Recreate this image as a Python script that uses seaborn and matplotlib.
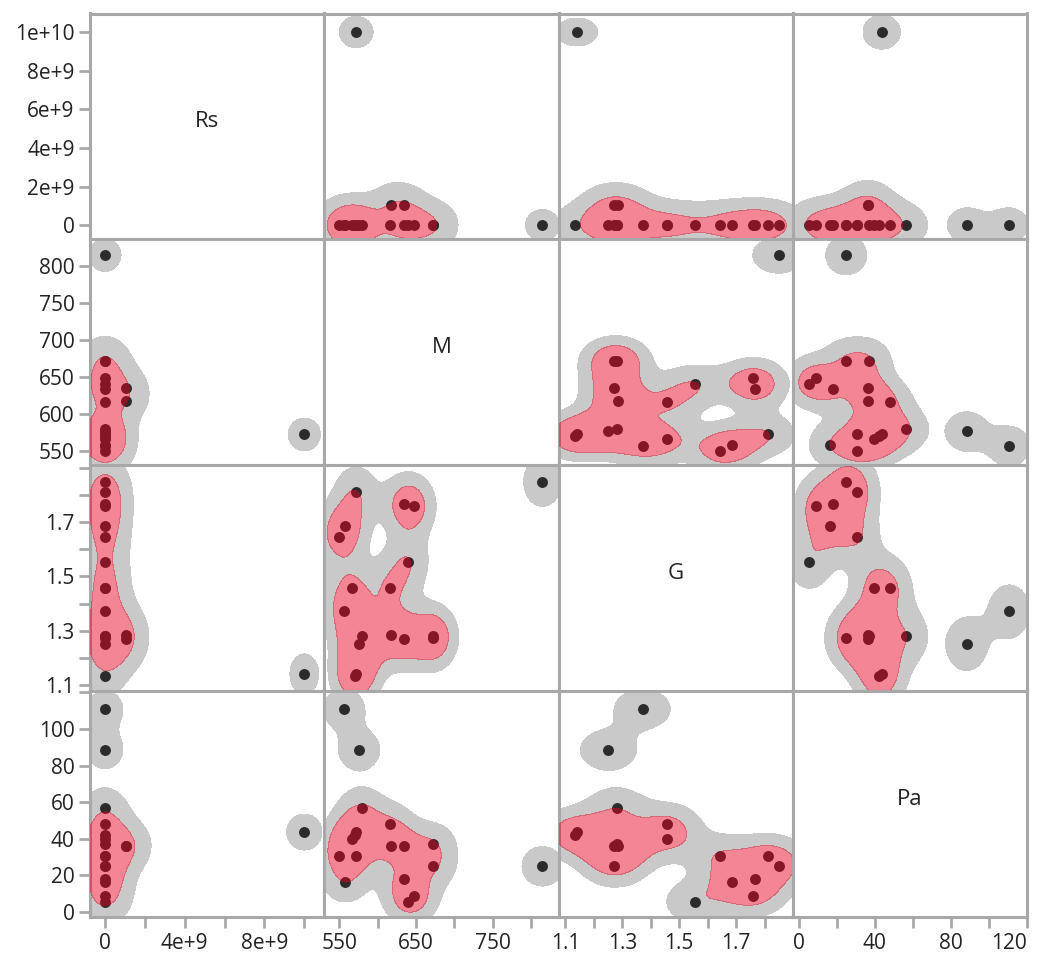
import numpy as np
import pandas as pd
import seaborn as sns
import matplotlib.pyplot as plt
from matplotlib.ticker import FixedLocator, FixedFormatter

rs = [0, 0, 0, 0, 0, 0, 1.05e9, 1.05e9, 0, 0, 0, 0, 1e10, 0, 0, 0, 0, 0]
m = [815, 672, 672, 640, 648, 634, 635, 618, 616, 579, 576, 572, 572, 570, 566, 558, 556, 550]
g_vals = [1.85, 1.272, 1.28, 1.555, 1.76, 1.767, 1.27, 1.284, 1.458, 1.28,
          1.25, 1.812, 1.14, 1.132, 1.458, 1.685, 1.371, 1.645]
pa = [25, 25, 37, 5.5, 9, 18, 36.3, 36.3, 48, 56.7, 88.4, 30.7, 43.7, 42, 39.8, 16.5, 110.9, 30.7]

names = ["Rs", "M", "G", "Pa"]

# axis domains (columns = x, rows = y)
x_lims = {"Rs": (-0.75e9, 11.0e9), "M": (530.4, 835.9), "G": (1.0754, 1.8993), "Pa": (-3.16, 120.2)}
y_lims = {"Rs": (-0.73e9, 10.96e9), "M": (530.6, 836.5), "G": (1.0778, 1.912), "Pa": (-2.4, 120.8)}

ticks = {"Rs": [0, 2e9, 4e9, 6e9, 8e9, 1e10],
         "M": [550, 600, 650, 700, 750, 800],
         "G": [1.1, 1.2, 1.3, 1.4, 1.5, 1.6, 1.7, 1.8, 1.9],
         "Pa": [0, 20, 40, 60, 80, 100, 120]}
x_labels = {"Rs": ["0", "", "4e+9", "", "8e+9", ""],
            "M": ["550", "", "650", "", "750", ""],
            "G": ["1.1", "", "1.3", "", "1.5", "", "1.7", "", ""],
            "Pa": ["0", "", "40", "", "80", "", "120"]}
y_labels = {"Rs": ["0", "2e+9", "4e+9", "6e+9", "8e+9", "1e+10"],
            "M": ["550", "600", "650", "700", "750", "800"],
            "G": ["1.1", "", "1.3", "", "1.5", "", "1.7", "", ""],
            "Pa": ["0", "20", "40", "60", "80", "100", ""]}

df = pd.DataFrame({"Rs": rs, "M": m, "G": g_vals, "Pa": pa})

GREY = "#c9c9c9"
RED = "#e8001f"
DOT = "#2b2b2b"
FRAME = "#a8a8a8"
BW = 0.5 * len(df) ** (-1 / 6)   # half of Scott's factor, in std units
LEVELS = [0.115, 0.44]           # share of density mass below the grey / red contours
PW, PH = 234.25, 225.75          # panel size in px

sns.set_style("white")
plt.rcParams["font.family"] = ["Open Sans", "DejaVu Sans"]


def mass_levels(dens, props):
    vals = np.sort(dens.ravel())[::-1]
    cum = np.cumsum(vals) / vals.sum()
    idx = np.searchsorted(cum, 1 - np.asarray(props))
    return np.take(vals, idx, mode="clip")


def blobs(x, y, **kws):
    ax = plt.gca()
    x0, x1 = ax.get_xlim()
    y0, y1 = ax.get_ylim()
    x = np.asarray(x, dtype=float)
    y = np.asarray(y, dtype=float)
    # kernel widths in px, proportional to each variable's spread
    sx = BW * np.std(x, ddof=1) * PW / (x1 - x0)
    sy = BW * np.std(y, ddof=1) * PH / (y1 - y0)
    qx = (x - x0) / (x1 - x0) * PW
    qy = (y - y0) / (y1 - y0) * PH
    px, py = np.meshgrid(np.linspace(qx.min() - 4 * sx, qx.max() + 4 * sx, 400),
                         np.linspace(qy.min() - 4 * sy, qy.max() + 4 * sy, 400))
    dens = np.zeros_like(px)
    for a, b in zip(qx, qy):
        dens += np.exp(-0.5 * (((px - a) / sx) ** 2 + ((py - b) / sy) ** 2))
    t_grey, t_red = mass_levels(dens, LEVELS)
    X = x0 + px / PW * (x1 - x0)
    Y = y0 + py / PH * (y1 - y0)
    ax.contourf(X, Y, dens, levels=[t_grey, t_red], colors=[GREY], zorder=1)
    sns.scatterplot(x=x, y=y, ax=ax, color=DOT, s=62, linewidth=0, legend=False, zorder=2)
    ax.contourf(X, Y, dens, levels=[t_red, dens.max() + 1], colors=[RED], alpha=0.48, zorder=3)


g = sns.PairGrid(df, vars=names, despine=False, height=2.4)
g.figure.set_size_inches(10.4, 9.61)

for i, rv in enumerate(names):
    for j, cv in enumerate(names):
        ax = g.axes[i, j]
        ax.set_xlim(x_lims[cv])
        ax.set_ylim(y_lims[rv])

g.map_offdiag(blobs)

for i, rv in enumerate(names):
    for j, cv in enumerate(names):
        ax = g.axes[i, j]
        ax.set_xlim(x_lims[cv])
        ax.set_ylim(y_lims[rv])
        ax.set_xlabel("")
        ax.set_ylabel("")
        for s in ax.spines.values():
            s.set_color(FRAME)
            s.set_linewidth(2.2)
        ax.tick_params(axis="both", color=FRAME, width=2, length=8,
                       labelsize=15, labelcolor="#222222")
        ax.tick_params(axis="y", pad=3)
        ax.tick_params(axis="x", pad=4)
        ax.tick_params(bottom=(i == 3), labelbottom=(i == 3),
                       left=(j == 0), labelleft=(j == 0),
                       top=False, right=False)
        if i == j:
            ax.text(0.5, 0.52, rv, transform=ax.transAxes, ha="center", va="center",
                    fontsize=16, color="#222222")

for j, cv in enumerate(names):
    ax = g.axes[3, j]
    ax.xaxis.set_major_locator(FixedLocator(ticks[cv]))
    ax.xaxis.set_major_formatter(FixedFormatter(x_labels[cv]))
for i, rv in enumerate(names):
    ax = g.axes[i, 0]
    ax.yaxis.set_major_locator(FixedLocator(ticks[rv]))
    ax.yaxis.set_major_formatter(FixedFormatter(y_labels[rv]))

# last Pa label sits flush with the right edge
g.axes[3, 3].get_xticklabels()[-1].set_horizontalalignment("right")

g.figure.subplots_adjust(left=90 / 1040, right=1027 / 1040, top=1 - 13.5 / 961,
                         bottom=1 - 916.5 / 961, wspace=0, hspace=0)
g.figure.savefig("out.png", dpi=100)
